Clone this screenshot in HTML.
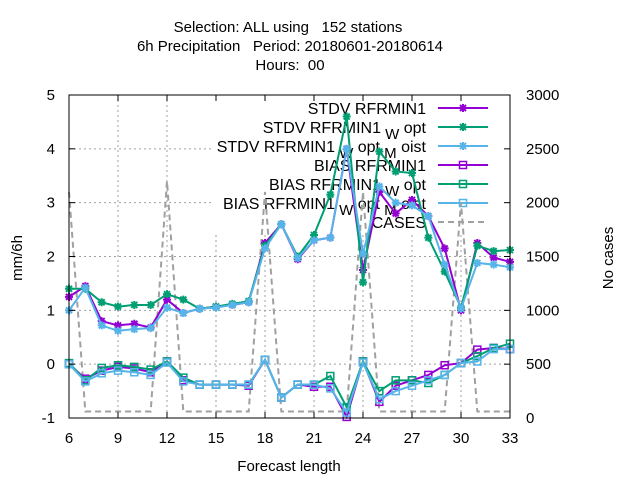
<!DOCTYPE html>
<html><head><meta charset="utf-8"><style>
html,body{margin:0;padding:0;background:#fff}
svg text{font-family:"Liberation Sans",sans-serif;fill:#000;white-space:pre}
</style></head><body>
<svg id="chart" width="640" height="480" viewBox="0 0 640 480" xmlns="http://www.w3.org/2000/svg">
<g font-size="15" text-anchor="middle">
<text x="288" y="32">Selection: ALL using   152 stations</text>
<text x="290" y="51">6h Precipitation   Period: 20180601-20180614</text>
<text x="290" y="70">Hours:  00</text>
</g>
<g id="grid"></g>
<rect x="213" y="96" width="296" height="137" fill="#fff"/>
<g id="legend" font-size="16" text-anchor="end"></g>
<g id="series"></g>
<g id="axes"></g>
<text x="289" y="471" font-size="15" text-anchor="middle">Forecast length</text>
<text transform="translate(22,258) rotate(-90)" font-size="15" text-anchor="middle">mm/6h</text>
<text transform="translate(613,258) rotate(-90)" font-size="15" text-anchor="middle">No cases</text>
</svg>
<script>
const leadTimes=[6,7,8,9,10,11,12,13,14,15,16,17,18,19,20,21,22,23,24,25,26,27,28,29,30,31,32,33];
const stdvRef=[1.25,1.45,0.8,0.72,0.75,0.68,1.2,0.95,1.03,1.07,1.1,1.15,2.25,2.6,1.95,2.3,2.35,4.0,1.75,3.2,2.8,3.05,2.75,2.15,1.0,2.25,1.98,1.9];
const stdvWopt=[1.4,1.4,1.15,1.07,1.1,1.1,1.3,1.2,1.03,1.07,1.12,1.17,2.2,2.6,2.0,2.4,3.15,4.6,1.52,3.95,3.58,3.55,2.35,1.72,1.05,2.2,2.1,2.12];
const stdvMoist=[1.0,1.42,0.72,0.62,0.65,0.67,1.05,0.95,1.03,1.05,1.1,1.15,2.15,2.6,1.97,2.3,2.35,4.0,2.05,3.3,3.0,2.95,2.75,1.85,1.03,1.88,1.85,1.8];
const biasRef=[0,-0.27,-0.12,-0.05,-0.08,-0.15,0.05,-0.3,-0.38,-0.38,-0.38,-0.4,0.08,-0.62,-0.38,-0.42,-0.42,-0.98,0.05,-0.7,-0.4,-0.3,-0.2,-0.02,0.02,0.27,0.3,0.28];
const biasWopt=[0.02,-0.3,-0.07,-0.02,-0.05,-0.1,0.05,-0.25,-0.38,-0.38,-0.38,-0.38,0.08,-0.62,-0.38,-0.38,-0.22,-0.8,0.05,-0.5,-0.3,-0.3,-0.35,-0.2,0.02,0.15,0.3,0.38];
const biasMoist=[0,-0.32,-0.17,-0.12,-0.15,-0.2,0.03,-0.32,-0.38,-0.38,-0.38,-0.38,0.08,-0.62,-0.38,-0.38,-0.45,-0.9,0.03,-0.65,-0.5,-0.4,-0.3,-0.2,0.02,0.05,0.28,0.28];
const cases=[2100,60,60,60,60,60,2200,60,60,60,60,60,2100,60,60,60,60,60,2100,60,60,60,60,60,2000,60,60,60];
const xTicks=[6,9,12,15,18,21,24,27,30,33];
const yTicks=[-1,0,1,2,3,4,5];
const y2Ticks=[0,500,1000,1500,2000,2500,3000];

const L=69,R=510,T=95,B=418;
const X=v=>L+(v-6)/(33-6)*(R-L);
const Y=v=>B-(v+1)/6*(B-T);
const Y2=v=>B-v/3000*(B-T);
const NS="http://www.w3.org/2000/svg";
function mk(tag,attrs,parent){const e=document.createElementNS(NS,tag);for(const k in attrs)e.setAttribute(k,attrs[k]);parent.appendChild(e);return e;}
const grid=document.getElementById('grid'),axes=document.getElementById('axes'),series=document.getElementById('series'),legend=document.getElementById('legend');

xTicks.forEach(t=>{
  if(t>6&&t<33){const g=mk('line',{x1:X(t),x2:X(t),y1:T,y2:B,stroke:'#a0a0a0','stroke-dasharray':'2,3'},grid);
  
  }
  const tk=mk('path',{d:`M${X(t)},${B}v-6M${X(t)},${T}v6`,stroke:'#000'},axes);
  
  
  const lb=mk('text',{x:X(t),y:B+25,'font-size':15,'text-anchor':'middle'},axes);lb.textContent=t;
  
  
});
yTicks.forEach(t=>{
  if(t>-1&&t<5){const g=mk('line',{x1:L,x2:R,y1:Y(t),y2:Y(t),stroke:'#a0a0a0','stroke-dasharray':'2,3'},grid);
  
  }
  const tk=mk('path',{d:`M${L},${Y(t)}h6`,stroke:'#000'},axes);
  
  
  const lb=mk('text',{x:55,y:Y(t)+5,'font-size':15,'text-anchor':'end'},axes);lb.textContent=t;
  
  
});
y2Ticks.forEach(t=>{
  const tk=mk('path',{d:`M${R},${Y2(t)}h-6`,stroke:'#000'},axes);
  
  
  const lb=mk('text',{x:526,y:Y2(t)+5,'font-size':15},axes);lb.textContent=t;
  
  
});
const frame=mk('rect',{x:L,y:T,width:R-L,height:B-T,fill:'none',stroke:'#000'},axes);



function star(g,x,y,c){mk('path',{d:`M${x-4},${y}h8M${x},${y-4}v8M${x-3},${y-3}l6,6M${x-3},${y+3}l6,-6`,stroke:c,'stroke-width':2,fill:'none'},g);}
function sq(g,x,y,c){mk('rect',{x:x-3.5,y:y-3.5,width:7,height:7,stroke:c,'stroke-width':1.5,fill:'none'},g);}

const defs=[
 {vals:stdvRef,c:'#9400d3',m:star,name:'stdv-rfrmin1',lbl:['STDV RFRMIN1']},
 {vals:stdvWopt,c:'#009e73',m:star,name:'stdv-rfrmin1-wopt',lbl:['STDV RFRMIN1','W','opt']},
 {vals:stdvMoist,c:'#56b4e9',m:star,name:'stdv-rfrmin1-wopt-moist',lbl:['STDV RFRMIN1','W','opt','M','oist']},
 {vals:biasRef,c:'#9400d3',m:sq,name:'bias-rfrmin1',lbl:['BIAS RFRMIN1']},
 {vals:biasWopt,c:'#009e73',m:sq,name:'bias-rfrmin1-wopt',lbl:['BIAS RFRMIN1','W','opt']},
 {vals:biasMoist,c:'#56b4e9',m:sq,name:'bias-rfrmin1-wopt-moist',lbl:['BIAS RFRMIN1','W','opt','M','oist']}
];
defs.forEach((d,i)=>{
  const ly=108+i*19;
  const t=mk('text',{x:426,y:ly+6},legend);
  
  
  d.lbl.forEach((s,j)=>{const ts=mk('tspan',{},t);ts.textContent=(j%2===1?' ':'')+s;if(j%2===1){ts.setAttribute('dy','6');ts.setAttribute('font-size','15');}else if(j>0){ts.setAttribute('dy','-6');ts.textContent=' '+s;}});
  const lg=mk('g',{},legend);
  
  
  mk('line',{x1:438,x2:488,y1:ly,y2:ly,stroke:d.c,'stroke-width':2},lg);d.m(lg,463,ly,d.c);
});
const ct=mk('text',{x:426,y:228},legend);ct.textContent='CASES';


const cl=mk('line',{x1:438,x2:488,y1:222,y2:222,stroke:'#a0a0a0','stroke-width':2,'stroke-dasharray':'6,4'},legend);



const cp=mk('polyline',{points:leadTimes.map((x,i)=>X(x)+','+Y2(cases[i])).join(' '),fill:'none',stroke:'#a0a0a0','stroke-width':2,'stroke-dasharray':'6,4'},series);


defs.forEach(d=>{
  const g=mk('g',{},series);
  
  
  mk('polyline',{points:leadTimes.map((x,i)=>X(x)+','+Y(d.vals[i])).join(' '),fill:'none',stroke:d.c,'stroke-width':2},g);
  leadTimes.forEach((x,i)=>d.m(g,X(x),Y(d.vals[i]),d.c));
});
</script>
</body></html>
